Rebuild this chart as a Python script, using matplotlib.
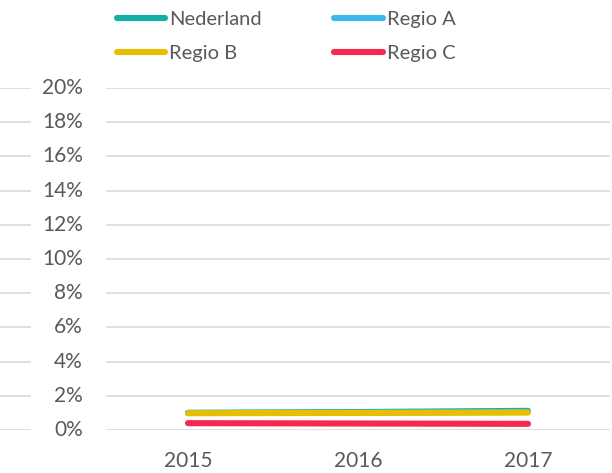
import numpy as np
import matplotlib
matplotlib.use('Agg')
import matplotlib.pyplot as plt
from matplotlib.patches import Rectangle

years = [2015, 2016, 2017]
series_names = ['Nederland', 'Regio A', 'Regio B', 'Regio C']
nederland = [0.0100, 0.0105, 0.0112]
regio_a = [0.0100, 0.0101, 0.0106]
regio_b = [0.0098, 0.0100, 0.0102]
regio_c = [0.0040, 0.0038, 0.0036]
colors = ['#12B0A4', '#38B8F0', '#E8BE00', '#F42850']
yticks = [0.0, 0.02, 0.04, 0.06, 0.08, 0.10, 0.12, 0.14, 0.16, 0.18, 0.20]
ytick_labels = ['0%', '2%', '4%', '6%', '8%', '10%', '12%', '14%', '16%', '18%', '20%']

plt.rcParams['font.family'] = ['Lato', 'DejaVu Sans']
grey = '#595959'
W, H = 612, 473

fig = plt.figure(figsize=(W / 100, H / 100), dpi=100)
# gridlines run over the full width, like the original
ax = fig.add_axes([0, (H - 430) / H, 610 / W, (430 - 88) / H])

lines = []
for name, vals, c in zip(series_names, [nederland, regio_a, regio_b, regio_c], colors):
    ln, = ax.plot(years, vals, color=c, lw=4.4, solid_capstyle='round', label=name, zorder=3)
    lines.append(ln)

ax.set_ylim(0, 0.20)
ax.set_xlim(2015 - 188 / 170, 2017 + 82 / 170)
ax.set_yticks(yticks)
ax.set_yticklabels([])
ax.tick_params(axis='y', length=0)
ax.set_xticks(years)
ax.set_xticklabels([str(y) for y in years])
ax.tick_params(axis='x', length=0, pad=15, labelsize=15, labelcolor=grey)
ax.grid(axis='y', color='#D9D9D9', lw=1.2)
for s in ax.spines.values():
    s.set_visible(False)

# white gap behind the y labels
trans = ax.get_yaxis_transform()
ax.add_patch(Rectangle((31 / 610, -0.01), 75 / 610, 1.02, transform=trans,
                       facecolor='white', edgecolor='none', zorder=2, clip_on=False))
for v, lab in zip(yticks, ytick_labels):
    ax.text(83 / 610, v, lab, transform=trans, ha='right', va='center',
            fontsize=15, color=grey, zorder=4)

# legend fills row by row in the original
order = [0, 2, 1, 3]
leg = ax.legend([lines[i] for i in order], [series_names[i] for i in order],
                loc='upper left', bbox_to_anchor=(117 / W, 1 - 11 / H),
                bbox_transform=fig.transFigure, ncol=2, frameon=False,
                fontsize=14.5, handlelength=2.4, handletextpad=0.2,
                columnspacing=3.6, labelspacing=0.85, borderpad=0, borderaxespad=0)
for t in leg.get_texts():
    t.set_color(grey)
for l in leg.get_lines():
    l.set_linewidth(4.4)
    l.set_solid_capstyle('round')

fig.savefig('out.png', dpi=100)
